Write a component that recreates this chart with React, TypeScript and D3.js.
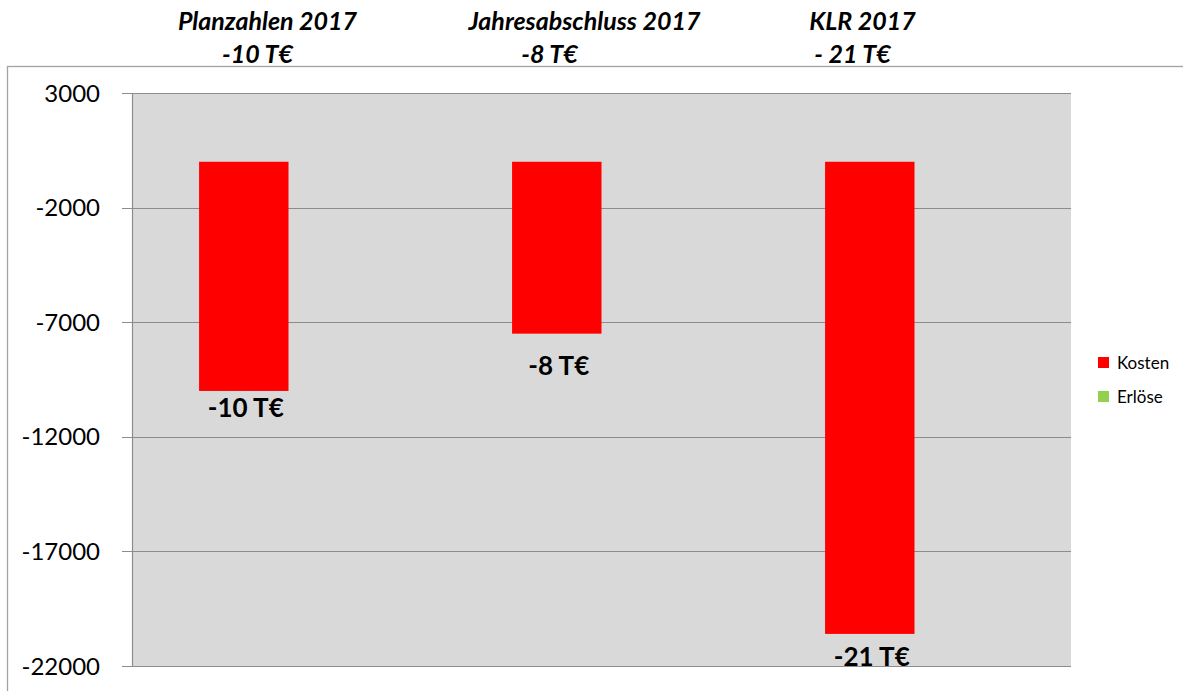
import React, { useEffect, useRef } from 'react';
import * as d3 from 'd3';

// data
const categories = ['Planzahlen 2017', 'Jahresabschluss 2017', 'KLR 2017'];
const seriesNames = ['Kosten', 'Erlöse'];
const kosten = [-10000, -7500, -20600];
const erloese = [0, 0, 0];
const barLabels = ['-10 T€', '-8 T€', '-21 T€'];
const headerLine1 = ['Planzahlen 2017', 'Jahresabschluss 2017', 'KLR 2017'];
const headerLine2 = ['-10 T€', '-8 T€', '- 21 T€'];
const yTicks = [3000, -2000, -7000, -12000, -17000, -22000];

const seriesColors = ['#ff0000', '#92d050'];
const FONT = 'Lato, "Open Sans", "DejaVu Sans", sans-serif';

const W = 1183;
const H = 691;
const plot = { left: 132, top: 93, right: 1071, bottom: 666 };

// header text boxes sit loosely above each category (offsets from group centre)
const header1Dx = [-21, -17, -52];
const header2Dx = [-31, -52, -62];
const labelDy = [26, 41, 32];

const App: React.FC = () => {
  const svgRef = useRef<SVGSVGElement>(null);

  useEffect(() => {
    if (!svgRef.current) return;
    const svg = d3.select(svgRef.current);
    svg.selectAll('*').remove();

    const x0 = d3.scaleBand<string>()
      .domain(categories)
      .range([plot.left, plot.right])
      .paddingInner(1.5 / 3.5)
      .paddingOuter(0.75 / 3.5);
    const x1 = d3.scaleBand<string>().domain(seriesNames).range([0, x0.bandwidth()]);
    const y = d3.scaleLinear().domain([-22000, 3000]).range([plot.bottom, plot.top]);
    const mid = (i: number) => (x0(categories[i]) || 0) + x0.bandwidth() / 2;

    // chart area frame
    svg.append('rect')
      .attr('x', 7.5).attr('y', 66.5)
      .attr('width', W + 20).attr('height', H)
      .attr('fill', '#fff').attr('stroke', '#a3a3a3').attr('stroke-width', 1.3);

    // plot area
    svg.append('rect')
      .attr('x', plot.left).attr('y', plot.top)
      .attr('width', plot.right - plot.left).attr('height', plot.bottom - plot.top)
      .attr('fill', '#d9d9d9');

    svg.append('g').selectAll('line')
      .data(yTicks)
      .enter().append('line')
      .attr('x1', plot.left - 10).attr('x2', plot.right)
      .attr('y1', d => Math.round(y(d)) + 0.5).attr('y2', d => Math.round(y(d)) + 0.5)
      .attr('stroke', '#8c8c8c').attr('stroke-width', 1.2);

    svg.append('line')
      .attr('x1', plot.left + 0.5).attr('x2', plot.left + 0.5)
      .attr('y1', plot.top).attr('y2', plot.bottom)
      .attr('stroke', '#8c8c8c').attr('stroke-width', 1.2);

    svg.append('g').selectAll('text')
      .data(yTicks)
      .enter().append('text')
      .attr('x', 100).attr('y', d => y(d))
      .attr('dy', '0.36em')
      .attr('text-anchor', 'end')
      .attr('font-family', FONT).attr('font-size', 24).attr('fill', '#000')
      .text(d => d);

    // bars
    const series = [kosten, erloese];
    series.forEach((vals, si) => {
      svg.append('g').selectAll('rect')
        .data(vals)
        .enter().append('rect')
        .attr('x', (_, i) => (x0(categories[i]) || 0) + (x1(seriesNames[si]) || 0))
        .attr('width', x1.bandwidth())
        .attr('y', d => Math.min(y(0), y(d)))
        .attr('height', d => Math.abs(y(d) - y(0)))
        .attr('fill', seriesColors[si]);
    });

    // bar value labels
    svg.append('g').selectAll('text')
      .data(kosten)
      .enter().append('text')
      .attr('x', (_, i) => (x0(categories[i]) || 0) + (x1('Kosten') || 0) + x1.bandwidth() / 2 + 2)
      .attr('y', (d, i) => y(d) + labelDy[i])
      .attr('text-anchor', 'middle')
      .attr('font-family', FONT).attr('font-size', 26).attr('font-weight', 'bold')
      .attr('fill', '#000')
      .text((_, i) => barLabels[i]);

    // header text boxes
    const hdr = svg.append('g')
      .attr('font-family', FONT).attr('font-weight', 'bold').attr('font-style', 'italic')
      .attr('font-size', 25).attr('fill', '#000').attr('text-anchor', 'middle');
    hdr.selectAll('text.l1')
      .data(headerLine1)
      .enter().append('text').attr('class', 'l1')
      .attr('x', (_, i) => mid(i) + header1Dx[i])
      .attr('y', 30)
      .text(d => d);
    hdr.selectAll('text.l2')
      .data(headerLine2)
      .enter().append('text').attr('class', 'l2')
      .attr('x', (_, i) => mid(i) + header2Dx[i])
      .attr('y', 63)
      .text(d => d);

    // legend
    const legend = svg.append('g').attr('transform', 'translate(1098,357)');
    seriesNames.forEach((name, i) => {
      legend.append('rect')
        .attr('x', 0).attr('y', i * 34)
        .attr('width', 11).attr('height', 11)
        .attr('fill', seriesColors[i]);
      legend.append('text')
        .attr('x', 19).attr('y', i * 34 + 12)
        .attr('font-family', FONT).attr('font-size', 17).attr('fill', '#000')
        .text(name);
    });
  }, []);

  return (
    <div style={{ position: 'absolute', left: 0, top: 0, background: '#fff' }}>
      <svg ref={svgRef} width={W} height={H} style={{ display: 'block' }}></svg>
    </div>
  );
};

export default App;
